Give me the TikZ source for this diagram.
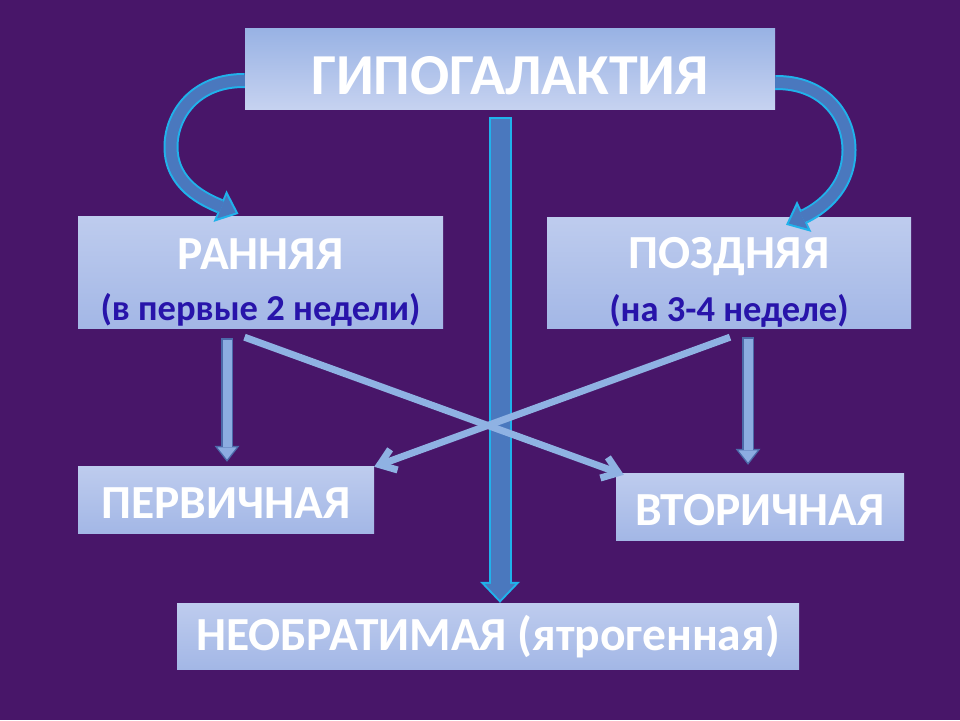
\documentclass[tikz,border=0pt]{standalone}
\usepackage{fontspec}
\setmainfont{Carlito}
\usetikzlibrary{arrows.meta}

\definecolor{bgpurple}{RGB}{72,22,105}
\definecolor{boxhi}{RGB}{190,204,238}
\definecolor{boxlo}{RGB}{163,183,230}
\definecolor{headhi}{RGB}{198,210,240}
\definecolor{headlo}{RGB}{152,178,228}
\definecolor{subblue}{RGB}{40,20,170}
\definecolor{rimcyan}{RGB}{32,178,235}
\definecolor{steel}{RGB}{74,120,190}
\definecolor{crossblue}{RGB}{143,178,227}
\definecolor{dropedge}{RGB}{76,106,170}
\definecolor{dropfill}{RGB}{140,172,225}

\begin{document}
\begin{tikzpicture}[
    x=1pt, y=-1pt,
    box/.style={top color=boxhi, bottom color=boxlo, inner sep=0pt, text=white,
                font=\bfseries\fontsize{47.5}{52}\selectfont, text depth=0pt},
    subtext/.style={text=subblue, inner sep=0pt, font=\bfseries\fontsize{36.5}{40}\selectfont},
    vrim/.style={line width=23pt, draw=rimcyan, -{Triangle[length=21pt,width=40pt,line width=0pt]}},
    vcore/.style={line width=19pt, draw=steel, shorten >=2.9pt, shorten <=2pt,
                  -{Triangle[length=16pt,width=30.5pt,line width=0pt]}},
    bendrim/.style={line width=15pt, draw=rimcyan, -{Triangle[length=20pt,width=34pt,line width=0pt]}},
    bendcore/.style={line width=11pt, draw=steel, shorten >=3.1pt,
                     -{Triangle[length=15pt,width=25pt,line width=0pt]}},
    droprim/.style={line width=12pt, draw=dropedge, -{Triangle[length=16pt,width=25pt,line width=0pt]}},
    dropcore/.style={line width=9pt, draw=dropfill, shorten >=2.4pt, shorten <=1.5pt,
                     -{Triangle[length=12pt,width=19pt,line width=0pt]}},
    cross/.style={line width=7pt, draw=crossblue, -{Straight Barb[length=15pt,width=22pt]}}
]
  % background
  \fill[bgpurple] (0,0) rectangle (960,720);
  \useasboundingbox (0,0) rectangle (960,720);

  \node (hypo) [box, top color=headlo, bottom color=headhi, minimum width=530pt, minimum height=81pt,
        font=\bfseries\fontsize{58}{64}\selectfont, text height=51pt] at (510,68.5) {ГИПОГАЛАКТИЯ};

  \node (early) [box, minimum width=365pt, minimum height=112pt, text height=30pt, text depth=36pt]
        at (260.5,272) {РАННЯЯ};
  \node (early-sub) [subtext, anchor=base] at ([yshift=8pt]early.south) {(в первые 2 недели)};

  \node (late) [box, minimum width=364pt, minimum height=111pt, text height=30pt, text depth=38pt]
        at (729,272.5) {ПОЗДНЯЯ};
  \node (late-sub) [subtext, anchor=base] at ([yshift=7pt]late.south) {(на 3-4 неделе)};

  \node (first) [box, minimum width=296pt, minimum height=67pt, text height=37pt] at (226,499.5) {ПЕРВИЧНАЯ};
  \node (second) [box, minimum width=288pt, minimum height=67pt, text height=37pt] at (760,506.5) {ВТОРИЧНАЯ};
  \node (irrev) [box, minimum width=622pt, minimum height=66pt, text height=28pt] at (488,636) {НЕОБРАТИМАЯ (ятрогенная)};

  % long arrow down the middle
  \foreach \sty in {vrim,vcore}
    \draw[\sty] ([xshift=-10pt,yshift=-8pt]hypo.south) -- ([xshift=12pt]irrev.north);

  % straight drops
  \foreach \sty in {droprim,dropcore} {
    \draw[\sty] ([xshift=-33.5pt,yshift=-10pt]early.south) -- ([xshift=1pt,yshift=4pt]first.north);
    \draw[\sty] ([xshift=19pt,yshift=-9pt]late.south) -- ([xshift=-12pt,yshift=8pt]second.north);
  }

  % the cross
  \draw[cross] ([xshift=-16pt,yshift=-9pt]early.south) -- ([xshift=8pt,yshift=-2pt]second.north west);
  \draw[cross] ([xshift=1pt,yshift=-9pt]late.south) -- ([yshift=-1pt]first.north east);

  % bent arrows from the title
  \foreach \sty in {bendrim,bendcore} {
    \draw[\sty] ([yshift=-12pt]hypo.west) .. controls (195,80) and (171,115) .. (171,147)
                .. controls (171,185) and (205,200) .. ([xshift=-22pt,yshift=2pt]early.north);
    \draw[\sty] ([yshift=-14pt]hypo.east) .. controls (825,82) and (849,117) .. (849,150)
                .. controls (849,190) and (818,210) .. ([xshift=57pt,yshift=-8pt]late.north);
  }
\end{tikzpicture}
\end{document}
